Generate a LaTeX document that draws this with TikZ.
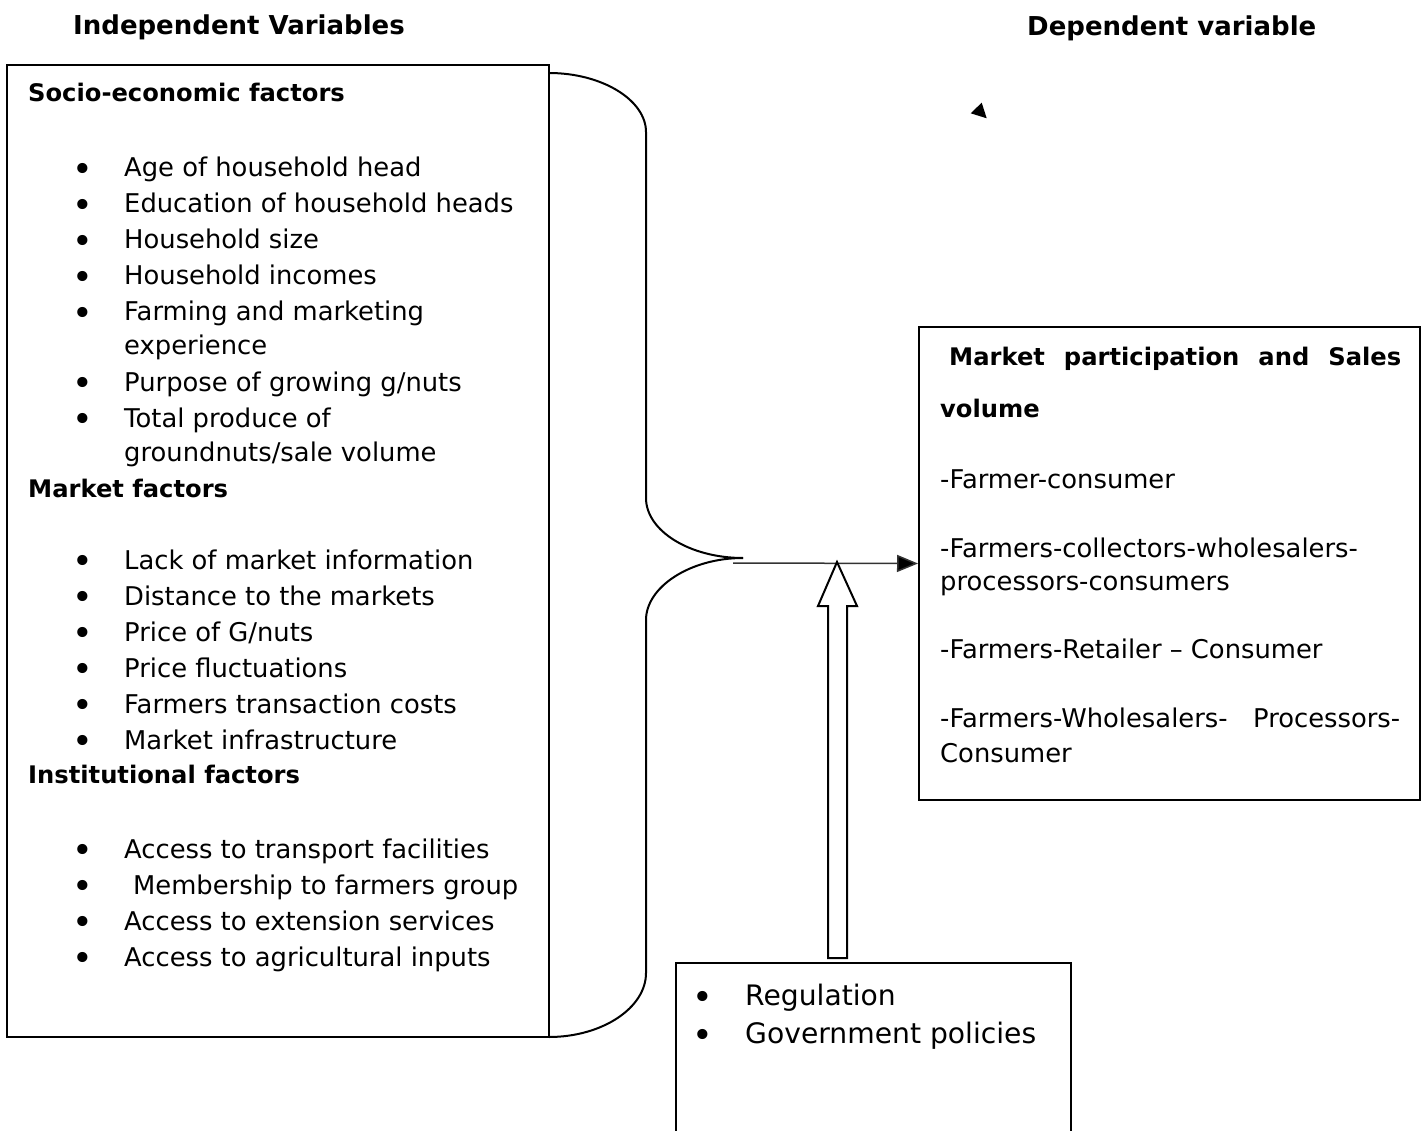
\documentclass[tikz,border=0pt]{standalone}
\usepackage{fontspec}
\setmainfont{DejaVu Sans}
\usetikzlibrary{arrows.meta}
\begin{document}
\begin{tikzpicture}[x=1pt,y=-1pt,
  boxline/.style={draw=black,line width=2pt,inner sep=0pt},
  txt/.style={anchor=base west,inner sep=0pt,font=\fontsize{25.8}{36}\selectfont},
  bigtxt/.style={anchor=base west,inner sep=0pt,font=\fontsize{28.2}{38}\selectfont},
  hd/.style={anchor=base west,inner sep=0pt,font=\fontsize{26}{36}\selectfont\bfseries},
  subhd/.style={anchor=base west,inner sep=0pt,font=\fontsize{24.2}{36}\selectfont\bfseries},
  bul/.style={anchor=base,inner sep=0pt,font=\fontsize{35}{36}\selectfont},
  bracestyle/.style={draw=black,line width=2pt},
  conn/.style={draw=black!80,line width=1.5pt,-{Triangle[length=21pt,width=17pt,fill=black]}},
  blockarrow/.style={draw=black,line width=2pt,fill=white,line join=miter},
]
\useasboundingbox (0,0) rectangle (1421,1131);
\clip (0,0) rectangle (1421,1131);

% headers
\node[hd] (hind) at (73,35) {Independent Variables};
\node[hd] (hdep) at (1027,36) {Dependent variable};

% boxes
\node[boxline, minimum width=542pt, minimum height=972pt] (ind) at (278,551) {};
\node[boxline, minimum width=501pt, minimum height=473pt] (dep) at (1169.5,563.5) {};
\node[boxline, minimum width=395pt, minimum height=240pt] (reg) at (873.5,1083) {};

% left box text
\node[subhd] (s1) at (28,102) {Socio-economic factors};
\node[subhd] (s2) at (28,497) {Market factors};
\node[subhd] (s3) at (28,783) {Institutional factors};

\foreach \y/\t [count=\i] in {
  177/{Age of household head},
  213/{Education of household heads},
  249/{Household size},
  285/{Household incomes},
  321/{Farming and marketing},
  391/{Purpose of growing g/nuts},
  427/{Total produce of},
  569/{Lack of market information},
  605/{Distance to the markets},
  641/{Price of G/nuts},
  677/{Price fluctuations},
  713/{Farmers transaction costs},
  749/{Market infrastructure},
  858/{Access to transport facilities},
  930/{Access to extension services},
  966/{Access to agricultural inputs}} {
  \node[bul] (b\i) at (83,\y+4.5) {•};
  \node[txt] (t\i) at (124,\y) {\t};
}
\node[bul] (bm) at (83,898.5) {•};
\node[txt] (tm) at (133,894) {Membership to farmers group};
\node[txt] (c1) at (124,355) {experience};
\node[txt] (c2) at (124,461) {groundnuts/sale volume};

% right box text
\node[subhd] (d1) at (949,366) {\makebox[452pt][s]{Market participation and Sales}};
\node[subhd] (d2) at (940,417) {volume};
\node[txt] (d3) at (940,488) {-Farmer-consumer};
\node[txt] (d4) at (940,557) {-Farmers-collectors-wholesalers-};
\node[txt] (d5) at (940,590) {processors-consumers};
\node[txt] (d6) at (940,658) {-Farmers-Retailer – Consumer};
\node[txt] (d7) at (940,727) {\makebox[460pt][s]{-Farmers-Wholesalers- Processors-}};
\node[txt] (d8) at (940,762) {Consumer};

% regulation box text
\node[bul] (r1b) at (703,1009) {•};
\node[bigtxt] (r1) at (745,1005) {Regulation};
\node[bul] (r2b) at (703,1047) {•};
\node[bigtxt] (r2) at (745,1043) {Government policies};

% brace
\coordinate (tip) at (743,558);
\coordinate (bt) at (549,73);
\coordinate (bb) at (549,1037);
\draw[bracestyle] (bt) .. controls (602,73) and (646,100) .. (646,132)
  -- (646,498) .. controls (646,531) and (690,558) .. (tip);
\draw[bracestyle] (tip) .. controls (690,558) and (646,587) .. (646,620)
  -- (646,973) .. controls (646,1008) and (602,1037) .. (bb);

% connector
\coordinate (astart) at (733,563);
\draw[conn] (astart) -- (dep.west);

% block arrow from regulation box
\draw[blockarrow] (828,958) -- (828,606) -- (818,606) -- (837,562)
  -- (857,606) -- (847,606) -- (847,958) -- cycle;

% stray triangle
\fill (970.7,113.3) -- (981.7,102.7) -- (986.7,118.3) -- cycle;
\end{tikzpicture}
\end{document}
